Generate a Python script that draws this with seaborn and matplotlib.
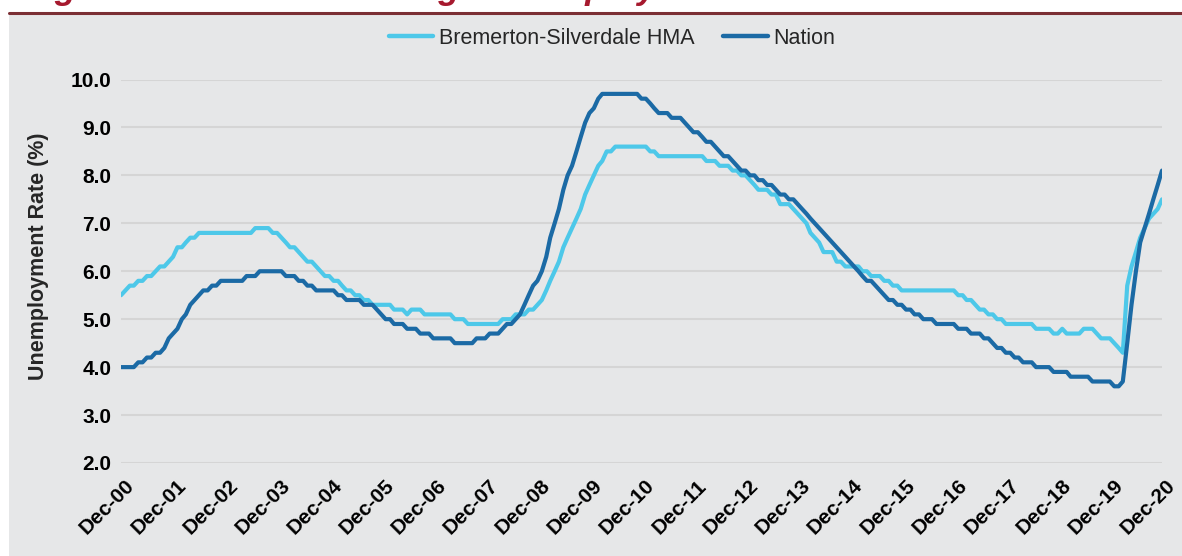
import numpy as np
import pandas as pd
import matplotlib
matplotlib.use("Agg")
import matplotlib.pyplot as plt
import matplotlib.transforms as mtransforms
from matplotlib.patches import Rectangle
from matplotlib.lines import Line2D
import seaborn as sns

# 12-month average unemployment rate (%), monthly from Dec-2000 to Dec-2020
months = pd.date_range("2000-12-01", "2020-12-01", freq="MS")

bremerton = [
    5.5,
    5.6, 5.7, 5.7, 5.8, 5.8, 5.9, 5.9, 6.0, 6.1, 6.1, 6.2, 6.3,  # 2001
    6.5, 6.5, 6.6, 6.7, 6.7, 6.8, 6.8, 6.8, 6.8, 6.8, 6.8, 6.8,  # 2002
    6.8, 6.8, 6.8, 6.8, 6.8, 6.8, 6.9, 6.9, 6.9, 6.9, 6.8, 6.8,  # 2003
    6.7, 6.6, 6.5, 6.5, 6.4, 6.3, 6.2, 6.2, 6.1, 6.0, 5.9, 5.9,  # 2004
    5.8, 5.8, 5.7, 5.6, 5.6, 5.5, 5.5, 5.4, 5.4, 5.3, 5.3, 5.3,  # 2005
    5.3, 5.3, 5.2, 5.2, 5.2, 5.1, 5.2, 5.2, 5.2, 5.1, 5.1, 5.1,  # 2006
    5.1, 5.1, 5.1, 5.1, 5.0, 5.0, 5.0, 4.9, 4.9, 4.9, 4.9, 4.9,  # 2007
    4.9, 4.9, 4.9, 5.0, 5.0, 5.0, 5.1, 5.1, 5.1, 5.2, 5.2, 5.3,  # 2008
    5.4, 5.6, 5.8, 6.0, 6.2, 6.5, 6.7, 6.9, 7.1, 7.3, 7.6, 7.8,  # 2009
    8.0, 8.2, 8.3, 8.5, 8.5, 8.6, 8.6, 8.6, 8.6, 8.6, 8.6, 8.6,  # 2010
    8.6, 8.5, 8.5, 8.4, 8.4, 8.4, 8.4, 8.4, 8.4, 8.4, 8.4, 8.4,  # 2011
    8.4, 8.4, 8.3, 8.3, 8.3, 8.2, 8.2, 8.2, 8.1, 8.1, 8.0, 8.0,  # 2012
    7.9, 7.8, 7.7, 7.7, 7.7, 7.6, 7.6, 7.4, 7.4, 7.4, 7.3, 7.2,  # 2013
    7.1, 7.0, 6.8, 6.7, 6.6, 6.4, 6.4, 6.4, 6.2, 6.2, 6.1, 6.1,  # 2014
    6.1, 6.1, 6.0, 6.0, 5.9, 5.9, 5.9, 5.8, 5.8, 5.7, 5.7, 5.6,  # 2015
    5.6, 5.6, 5.6, 5.6, 5.6, 5.6, 5.6, 5.6, 5.6, 5.6, 5.6, 5.6,  # 2016
    5.5, 5.5, 5.4, 5.4, 5.3, 5.2, 5.2, 5.1, 5.1, 5.0, 5.0, 4.9,  # 2017
    4.9, 4.9, 4.9, 4.9, 4.9, 4.9, 4.8, 4.8, 4.8, 4.8, 4.7, 4.7,  # 2018
    4.8, 4.7, 4.7, 4.7, 4.7, 4.8, 4.8, 4.8, 4.7, 4.6, 4.6, 4.6,  # 2019
    4.5, 4.4, 4.3, 5.7, 6.1, 6.4, 6.7, 6.9, 7.1, 7.2, 7.3, 7.5,  # 2020
]

nation = [
    4.0,
    4.0, 4.0, 4.0, 4.1, 4.1, 4.2, 4.2, 4.3, 4.3, 4.4, 4.6, 4.7,  # 2001
    4.8, 5.0, 5.1, 5.3, 5.4, 5.5, 5.6, 5.6, 5.7, 5.7, 5.8, 5.8,  # 2002
    5.8, 5.8, 5.8, 5.8, 5.9, 5.9, 5.9, 6.0, 6.0, 6.0, 6.0, 6.0,  # 2003
    6.0, 5.9, 5.9, 5.9, 5.8, 5.8, 5.7, 5.7, 5.6, 5.6, 5.6, 5.6,  # 2004
    5.6, 5.5, 5.5, 5.4, 5.4, 5.4, 5.4, 5.3, 5.3, 5.3, 5.2, 5.1,  # 2005
    5.0, 5.0, 4.9, 4.9, 4.9, 4.8, 4.8, 4.8, 4.7, 4.7, 4.7, 4.6,  # 2006
    4.6, 4.6, 4.6, 4.6, 4.5, 4.5, 4.5, 4.5, 4.5, 4.6, 4.6, 4.6,  # 2007
    4.7, 4.7, 4.7, 4.8, 4.9, 4.9, 5.0, 5.1, 5.3, 5.5, 5.7, 5.8,  # 2008
    6.0, 6.3, 6.7, 7.0, 7.3, 7.7, 8.0, 8.2, 8.5, 8.8, 9.1, 9.3,  # 2009
    9.4, 9.6, 9.7, 9.7, 9.7, 9.7, 9.7, 9.7, 9.7, 9.7, 9.7, 9.6,  # 2010
    9.6, 9.5, 9.4, 9.3, 9.3, 9.3, 9.2, 9.2, 9.2, 9.1, 9.0, 8.9,  # 2011
    8.9, 8.8, 8.7, 8.7, 8.6, 8.5, 8.4, 8.4, 8.3, 8.2, 8.1, 8.1,  # 2012
    8.0, 8.0, 7.9, 7.9, 7.8, 7.8, 7.7, 7.6, 7.6, 7.5, 7.5, 7.4,  # 2013
    7.3, 7.2, 7.1, 7.0, 6.9, 6.8, 6.7, 6.6, 6.5, 6.4, 6.3, 6.2,  # 2014
    6.1, 6.0, 5.9, 5.8, 5.8, 5.7, 5.6, 5.5, 5.4, 5.4, 5.3, 5.3,  # 2015
    5.2, 5.2, 5.1, 5.1, 5.0, 5.0, 5.0, 4.9, 4.9, 4.9, 4.9, 4.9,  # 2016
    4.8, 4.8, 4.8, 4.7, 4.7, 4.7, 4.6, 4.6, 4.5, 4.4, 4.4, 4.3,  # 2017
    4.3, 4.2, 4.2, 4.1, 4.1, 4.1, 4.0, 4.0, 4.0, 4.0, 3.9, 3.9,  # 2018
    3.9, 3.9, 3.8, 3.8, 3.8, 3.8, 3.8, 3.7, 3.7, 3.7, 3.7, 3.7,  # 2019
    3.6, 3.6, 3.7, 4.5, 5.3, 6.0, 6.6, 6.9, 7.2, 7.5, 7.8, 8.1,  # 2020
]

series_names = ["Bremerton-Silverdale HMA", "Nation"]
series_colors = ["#4dc8e9", "#1b6aa5"]
tick_dates = pd.date_range("2000-12-01", "2020-12-01", freq="12MS")
y_ticks = [2.0, 3.0, 4.0, 5.0, 6.0, 7.0, 8.0, 9.0, 10.0]
title = "Figure 3. 12-Month Average Unemployment Rate in the Bremerton-Silverdale HMA and the Nation"

df = pd.DataFrame({
    "Date": list(months) * 2,
    "Rate": bremerton + nation,
    "Series": [series_names[0]] * len(bremerton) + [series_names[1]] * len(nation),
})

sns.set_style("white")
plt.rcParams["font.family"] = ["Liberation Sans", "DejaVu Sans"]

W, H = 1182, 556
fig = plt.figure(figsize=(W / 100, H / 100), dpi=100, facecolor="white")

# grey panel, red rule and the heading, clipped by the top edge as in the source
fig.patches.append(Rectangle((9 / W, 0), 1, 1 - 13.5 / H, transform=fig.transFigure,
                             facecolor="#e6e7e8", edgecolor="none", zorder=-2))
fig.add_artist(Line2D([9 / W, 1], [1 - 12.5 / H] * 2, color="#7b2f34", lw=2.2))
fig.text(24 / W, 1 + 1 / H, title, color="#a6192e", fontsize=25, fontweight="bold",
         fontstyle="italic", va="baseline", ha="left")

ax = fig.add_axes([121 / W, 1 - 463 / H, (1162 - 121) / W, (463 - 79.5) / H])
ax.set_facecolor("none")

sns.lineplot(data=df, x="Date", y="Rate", hue="Series", hue_order=series_names,
             palette=dict(zip(series_names, series_colors)), lw=3, ax=ax, legend=False)

ax.set_xlim(months[0], months[-1])
ax.set_ylim(2, 10)
ax.set_yticks(y_ticks)
ax.set_yticklabels([f"{v:.1f}" for v in y_ticks], fontsize=15, fontweight="bold")
ax.set_xticks(tick_dates)
ax.set_xticklabels([d.strftime("%b-%y") for d in tick_dates], fontsize=15,
                   fontweight="bold", rotation=45, ha="right", rotation_mode="anchor")
ax.tick_params(axis="both", length=0, colors="black")
ax.tick_params(axis="y", pad=7)
ax.tick_params(axis="x", pad=0)
offset = mtransforms.ScaledTranslation(0.035, -0.13, fig.dpi_scale_trans)
for lab in ax.get_xticklabels():
    lab.set_transform(lab.get_transform() + offset)
    lab.set_va("top")

ax.yaxis.grid(True, color="#d5d5d5", lw=1.5)
ax.xaxis.grid(False)
ax.set_axisbelow(True)
for s in ax.spines.values():
    s.set_visible(False)

ax.set_xlabel("")
ax.set_ylabel("Unemployment Rate (%)", fontsize=15.5, fontweight="bold")
ax.yaxis.set_label_coords((49 - 121) / (1162 - 121), 0.54)

handles = [Line2D([], [], color=c, lw=3.2, solid_capstyle="round") for c in series_colors]
fig.legend(handles, series_names, loc="center", bbox_to_anchor=(612 / W, 1 - 38 / H),
           ncol=2, frameon=False, fontsize=15.5, handlelength=2.05, handletextpad=0.25,
           columnspacing=1.35)

fig.savefig("out.png", dpi=100, facecolor=fig.get_facecolor())
